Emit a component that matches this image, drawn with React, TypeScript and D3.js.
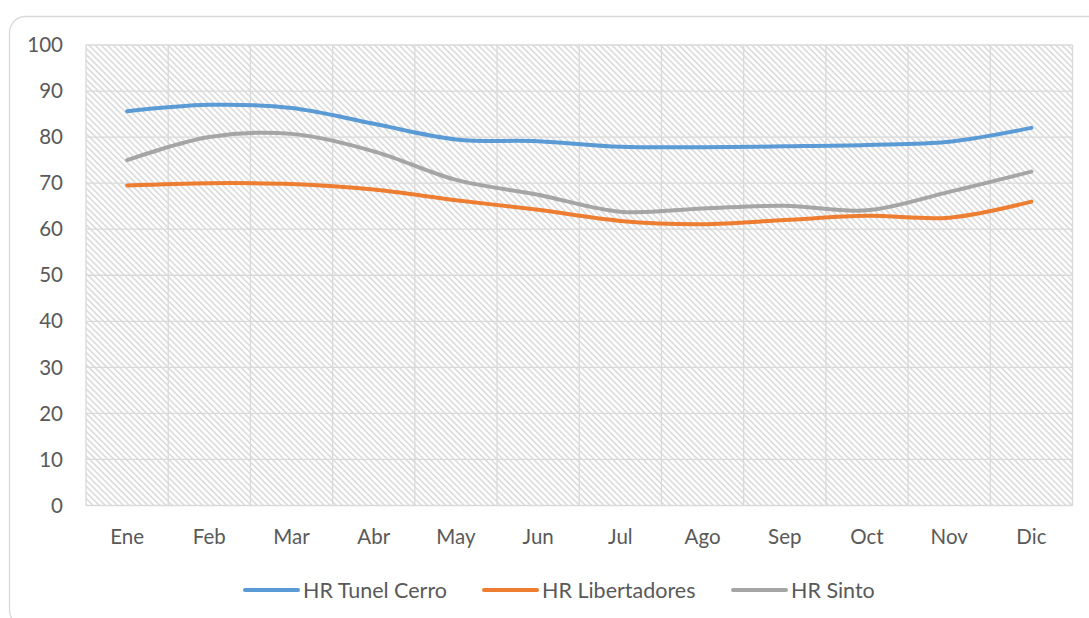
import React from "react";
import * as d3 from "d3";

const months = ["Ene", "Feb", "Mar", "Abr", "May", "Jun", "Jul", "Ago", "Sep", "Oct", "Nov", "Dic"];
const tunelCerro = [85.6, 87.0, 86.3, 82.9, 79.5, 79.1, 77.9, 77.8, 78.0, 78.3, 79.0, 82.0];
const libertadores = [69.5, 70.0, 69.8, 68.6, 66.3, 64.2, 61.8, 61.1, 62.0, 62.9, 62.5, 66.0];
const sinto = [75.0, 80.0, 80.7, 76.9, 70.7, 67.5, 63.8, 64.5, 65.1, 64.1, 68.1, 72.5];
const yTicks = [0, 10, 20, 30, 40, 50, 60, 70, 80, 90, 100];

const seriesNames = ["HR Tunel Cerro", "HR Libertadores", "HR Sinto"];
const seriesColors = ["#5B9BD5", "#ED7D31", "#A5A5A5"];
const seriesData = [tunelCerro, libertadores, sinto];

export default function App() {
  const W = 1089, H = 618;
  const left = 86, right = 1072.5, top = 45, bottom = 505.5;
  const x = d3.scaleBand<string>().domain(months).range([left, right]);
  const y = d3.scaleLinear().domain([0, 100]).range([bottom, top]);
  const line = d3
    .line<number>()
    .x((_, i) => (x(months[i]) as number) + x.bandwidth() / 2)
    .y((d) => y(d))
    .curve(d3.curveCatmullRom.alpha(0.5));
  const font = "Lato, 'Open Sans', sans-serif";
  const legendX = [245, 484, 733];

  return (
    <svg width={W} height={H} style={{ position: "absolute", left: 0, top: 0, background: "#fff" }}>
      <defs>
        <pattern id="hatch" width="4.3" height="4.3" patternUnits="userSpaceOnUse" patternTransform="rotate(-45)">
          <rect width="4.3" height="4.3" fill="#ffffff" />
          <rect x="0" y="0" width="1.7" height="4.3" fill="#dddddd" />
        </pattern>
      </defs>
      <rect x={9.5} y={16.5} width={1095} height={610} rx={16} fill="#fff" stroke="#d9d9d9" strokeWidth={1.3} />
      <rect x={left} y={top} width={right - left} height={bottom - top} fill="url(#hatch)" />
      {yTicks.map((t) => (
        <line key={"h" + t} x1={left} x2={right} y1={y(t)} y2={y(t)} stroke="#d9d9d9" strokeWidth={1.3} />
      ))}
      {months.map((m, i) => (
        <line key={"v" + m} x1={x(m) as number} x2={x(m) as number} y1={top} y2={bottom} stroke="#d9d9d9" strokeWidth={1.3} />
      ))}
      <line x1={right} x2={right} y1={top} y2={bottom} stroke="#d9d9d9" strokeWidth={1.3} />
      {yTicks.map((t) => (
        <text key={"yl" + t} x={63} y={y(t)} dy="0.35em" textAnchor="end" fontFamily={font} fontSize={20.5} fill="#595959">
          {t}
        </text>
      ))}
      {months.map((m) => (
        <text key={"xl" + m} x={(x(m) as number) + x.bandwidth() / 2} y={537} dy="0.35em" textAnchor="middle" fontFamily={font} fontSize={20.5} fill="#595959">
          {m}
        </text>
      ))}
      {seriesData.map((s, i) => (
        <path key={"s" + i} d={line(s) || ""} fill="none" stroke={seriesColors[i]} strokeWidth={4} strokeLinecap="round" strokeLinejoin="round" />
      ))}
      {seriesNames.map((n, i) => (
        <g key={"lg" + i}>
          <line x1={legendX[i]} x2={legendX[i] + 53} y1={590} y2={590} stroke={seriesColors[i]} strokeWidth={4} strokeLinecap="round" />
          <text x={legendX[i] + 58} y={590} dy="0.35em" fontFamily={font} fontSize={21.5} fill="#595959">
            {n}
          </text>
        </g>
      ))}
    </svg>
  );
}
